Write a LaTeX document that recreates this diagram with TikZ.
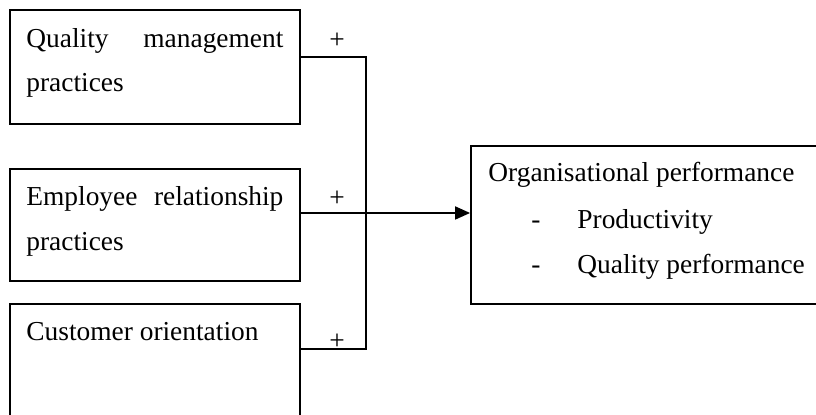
\documentclass[tikz,border=0pt]{standalone}
\usepackage{fontspec}
\setmainfont{Liberation Serif}
\usetikzlibrary{arrows.meta}

\tikzset{
	box/.style = {draw, line width = .9pt, rectangle, inner sep = 0pt},
	lbl/.style = {inner sep = 0pt, anchor = base west},
	link/.style = {line width = .9pt},
}

\begin{document}
\begin{tikzpicture}[x = .5pt, y = -.5pt]
		\tikzstyle{every node} = [font = \fontsize{13.7}{16}\selectfont]
		\useasboundingbox (0,0) rectangle (816,415);
		\clip (0,0) rectangle (816,415);

		% the four boxes
		\node[box, minimum width = 145pt, minimum height = 57pt] (qm) at (155,67) {};
		\node[box, minimum width = 145pt, minimum height = 56pt] (er) at (155,225) {};
		\node[box, minimum width = 145pt, minimum height = 63pt] (co) at (155,367) {}; %runs off the page
		\node[box, minimum width = 179.5pt, minimum height = 79pt] (op) at (650.5,225) {}; %runs off the page

		% texts
		\node[lbl, text width = 128.5pt] (qmA) at (26,48) {Quality\hfill management};
		\node[lbl] (qmB) at (26,92) {practices};
		\node[lbl, text width = 128.5pt] (erA) at (26,206) {Employee\hfill relationship};
		\node[lbl] (erB) at (26,251) {practices};
		\node[lbl] (coA) at (26,341) {Customer orientation};
		\node[lbl] (opA) at (488,182) {Organisational performance};
		\node[lbl] (opB) at (531,229) {-};
		\node[lbl] (opC) at (577,229) {Productivity};
		\node[lbl] (opD) at (531,274) {-};
		\node[lbl] (opE) at (577,274) {Quality performance};

		% signs
		\node (p1) at (337,41) {+};
		\node (p2) at (337,199) {+};
		\node (p3) at (337,342) {+};

		% connectors
		\coordinate (j) at (366,213);
		\draw[link] ([yshift = 5pt]qm.east) -| (j); %qm to joint
		\draw[link] ([yshift = 9pt]co.east) -| (j); %co to joint
		\draw[link, -{Triangle[length = 7.5pt, width = 6.5pt]}] ([yshift = 6pt]er.east) -- ([yshift = 6pt]op.west);
	\end{tikzpicture}
\end{document}
